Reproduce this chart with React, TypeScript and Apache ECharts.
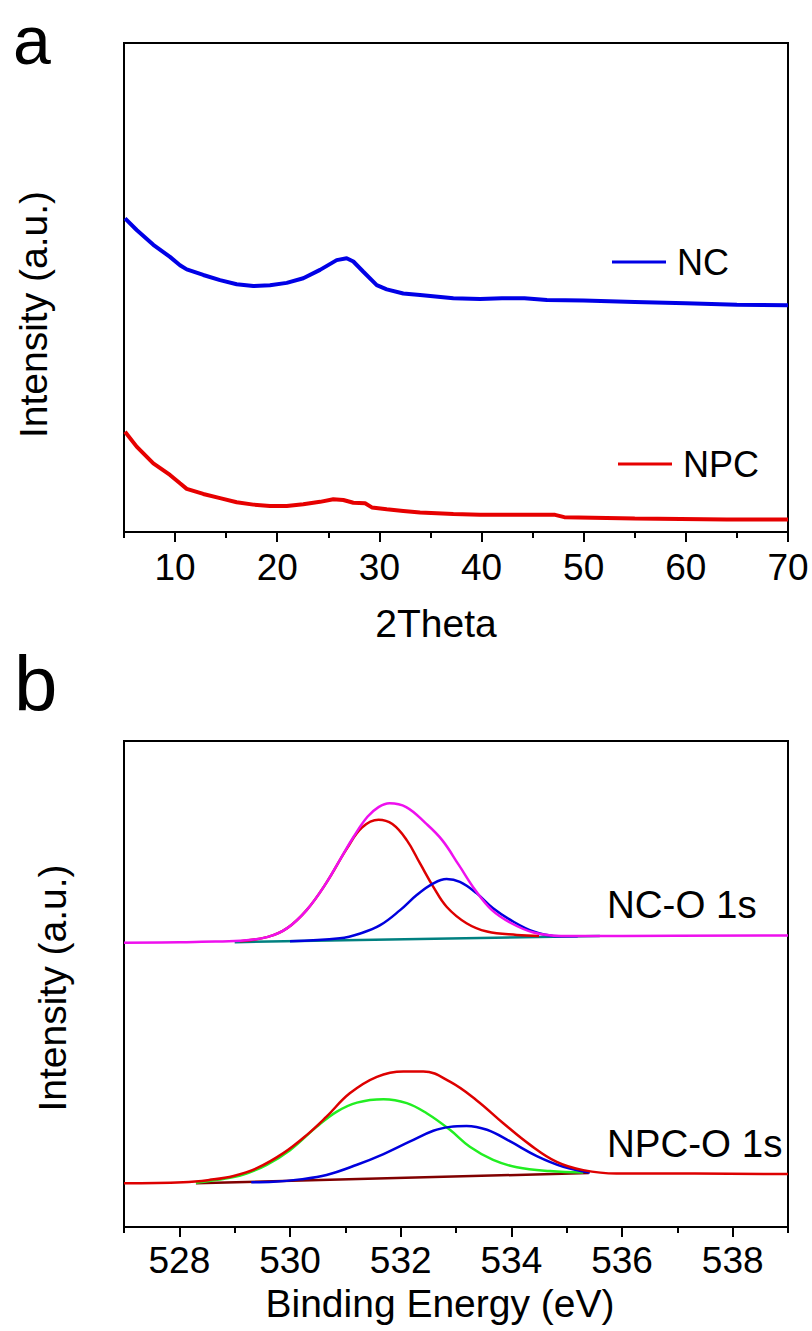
import React, { useEffect, useRef } from "react";
import * as echarts from "echarts";

// ---------- Panel a: XRD ----------
const XRD_MAJOR_TICKS = [10, 20, 30, 40, 50, 60, 70];
const XRD_MINOR_TICKS = [5, 15, 25, 35, 45, 55, 65];
const NC_XRD: [number, number][] = [
  [5.1, 67.6], [6.24, 65.1], [7.87, 61.9], [9.5, 59.3], [10.48, 57.5], [11.14, 56.6],
  [12.76, 55.4], [14.4, 54.3], [16.03, 53.4], [17.66, 53.0], [19.29, 53.2], [20.93, 53.7],
  [22.55, 54.7], [24.19, 56.5], [25.82, 58.6], [26.8, 59.0], [27.45, 58.3], [28.43, 56.1],
  [29.74, 53.2], [30.72, 52.3], [32.34, 51.4], [33.98, 51.1], [37.24, 50.4], [39.85, 50.2],
  [42.0, 50.4], [44.2, 50.4], [46.4, 50.0], [50, 49.9], [55, 49.6], [60, 49.3], [65, 49.0], [70, 48.9],
];
const NPC_XRD: [number, number][] = [
  [5.1, 21.6], [6.24, 18.4], [7.87, 14.8], [9.5, 12.3], [10.48, 10.5], [11.14, 9.3],
  [12.76, 8.2], [14.4, 7.3], [16.03, 6.4], [17.66, 5.9], [19.29, 5.6], [20.93, 5.6],
  [22.55, 6.0], [24.19, 6.5], [25.49, 7.05], [26.47, 6.9], [27.45, 6.3], [28.6, 6.2],
  [29.26, 5.3], [30.72, 4.9], [32.34, 4.55], [33.98, 4.2], [37.24, 3.86], [39.85, 3.7],
  [47.2, 3.7], [48.1, 3.2], [55, 2.9], [64, 2.7], [70, 2.7],
];

// ---------- Panel b: XPS O 1s ----------
const XPS_MAJOR_TICKS = [528, 530, 532, 534, 536, 538];
const XPS_MINOR_TICKS = [527, 529, 531, 533, 535, 537, 539];
const NC_O_ENVELOPE: [number, number][] = [
  [527.0, 58.5], [528.0, 58.6], [528.4, 58.7], [529.1, 58.9], [529.6, 59.7], [529.95, 61.5],
  [530.3, 65.2], [530.65, 70.7], [530.9, 75.5], [531.15, 80.3], [531.4, 84.4], [531.6, 86.4],
  [531.8, 87.2], [532.1, 86.4], [532.45, 83.1], [532.75, 79.6], [533.05, 74.5], [533.35, 69.3],
  [533.65, 65.2], [534.0, 62.5], [534.4, 60.6], [534.9, 59.9], [536.0, 59.9], [539.0, 60.0],
];
const NC_O_PEAK1: [number, number][] = [
  [529.1, 58.8], [529.6, 59.7], [529.95, 61.5], [530.3, 65.2], [530.65, 70.7], [531.03, 77.9],
  [531.3, 82.2], [531.6, 83.8], [531.85, 82.9], [532.11, 79.6], [532.35, 74.8], [532.59, 70.0],
  [532.83, 65.9], [533.19, 62.5], [533.56, 60.8], [534.1, 60.1], [534.5, 59.9],
];
const NC_O_PEAK2: [number, number][] = [
  [530.0, 58.8], [530.9, 59.4], [531.27, 60.4], [531.63, 62.1], [531.99, 65.2], [532.29, 68.3],
  [532.59, 70.7], [532.83, 71.6], [533.07, 71.0], [533.37, 68.7], [533.67, 65.6], [534.04, 62.8],
  [534.4, 60.8], [534.76, 59.9], [535.2, 59.8],
];
const NC_O_BASELINE: [number, number][] = [[529.0, 58.6], [535.6, 59.9]];

const NPC_O_ENVELOPE: [number, number][] = [
  [527.0, 9.0], [528.07, 9.2], [528.55, 9.7], [528.98, 10.5], [529.4, 12.1], [529.88, 15.2],
  [530.3, 18.9], [530.66, 22.7], [531.08, 27.5], [531.57, 30.9], [532.05, 32.0], [532.41, 32.0],
  [532.89, 29.9], [533.37, 26.1], [533.86, 21.3], [534.34, 16.9], [534.82, 13.4], [535.3, 11.7],
  [535.9, 11.0], [536.5, 11.0], [539.0, 10.9],
];
const NPC_O_PEAK1: [number, number][] = [
  [528.3, 9.1], [528.68, 9.7], [529.16, 10.8], [529.58, 12.8], [530.0, 15.8], [530.48, 20.6],
  [530.84, 23.7], [531.21, 25.6], [531.69, 26.3], [532.11, 25.5], [532.47, 23.4], [532.89, 20.0],
  [533.25, 16.5], [533.67, 13.8], [534.1, 12.3], [534.7, 11.5], [535.3, 11.2],
];
const NPC_O_PEAK2: [number, number][] = [
  [529.3, 9.2], [529.7, 9.3], [530.18, 9.8], [530.66, 10.7], [531.21, 12.8], [531.69, 15.0],
  [532.17, 17.6], [532.59, 19.8], [532.89, 20.6], [533.19, 20.8], [533.56, 20.0], [533.98, 17.6],
  [534.46, 14.6], [534.94, 12.4], [535.42, 11.2],
];
const NPC_O_BASELINE: [number, number][] = [[528.3, 9.0], [535.4, 11.1]];

const FONT = '"Liberation Sans", Arial, Helvetica, sans-serif';
const FS_TICK = 37;
const FS_NAME = 39;
const FS_NOTE = 38.5;
const FS_LEGEND = 36;

export default function App() {
  const ref = useRef<HTMLDivElement>(null);
  useEffect(() => {
    if (!ref.current) return;
    const chart = echarts.init(ref.current, undefined, { renderer: "svg" });
    const black = "#000";
    const axisLine = { show: true, onZero: false, lineStyle: { color: black, width: 2 } };
    const mkX = (grid: number, min: number, max: number, major: number[], minor: number[], name: string, nameGap: number, labelMargin: number, shiftLeft: number) => [
      {
        gridIndex: grid, type: "value", min, max, position: "bottom",
        name, nameLocation: "middle", nameGap,
        nameTextStyle: { fontSize: FS_NAME, color: black, fontFamily: FONT, padding: [0, shiftLeft * 2, 0, 0] },
        axisLine,
        axisTick: { show: true, customValues: major, length: 10, lineStyle: { color: black, width: 2 } },
        axisLabel: { show: true, customValues: major, fontSize: FS_TICK, color: black, margin: labelMargin, fontFamily: FONT },
        splitLine: { show: false },
      },
      {
        gridIndex: grid, type: "value", min, max, position: "bottom", offset: 0,
        axisLine: { show: false },
        axisTick: { show: true, customValues: minor, length: 6, lineStyle: { color: black, width: 2 } },
        axisLabel: { show: false },
        splitLine: { show: false },
      },
    ];
    const mkY = (grid: number, max: number, nameGap: number, shiftDown: number) => ({
      gridIndex: grid, type: "value", min: 0, max,
      name: "Intensity (a.u.)", nameLocation: "middle", nameGap, nameRotate: 90,
      nameTextStyle: { fontSize: FS_NAME, color: black, fontFamily: FONT, padding: [0, shiftDown * 2, 0, 0] },
      axisLine, axisTick: { show: false }, axisLabel: { show: false }, splitLine: { show: false },
    });
    const line = (name: string, data: [number, number][], color: string, xi: number, yi: number, width: number, smooth: number | boolean) => ({
      name, type: "line", data, xAxisIndex: xi, yAxisIndex: yi,
      showSymbol: false, symbol: "none", smooth,
      lineStyle: { color, width }, itemStyle: { color },
    });
    const legendBase = {
      orient: "horizontal", icon: "rect", itemWidth: 54, itemHeight: 3, padding: 0,
      selectedMode: false,
      textStyle: { fontSize: FS_LEGEND, color: black, fontFamily: FONT, padding: [0, 0, 0, 6] },
    };
    chart.setOption({
      animation: false,
      backgroundColor: "#fff",
      textStyle: { fontFamily: FONT },
      grid: [
        { left: 124, top: 43, width: 664, height: 489, show: true, borderColor: black, borderWidth: 2, backgroundColor: "transparent" },
        { left: 124, top: 741, width: 664, height: 486, show: true, borderColor: black, borderWidth: 2, backgroundColor: "transparent" },
      ],
      xAxis: [
        ...mkX(0, 5, 70, XRD_MAJOR_TICKS, XRD_MINOR_TICKS, "2Theta", 72, 17, 20),
        ...mkX(1, 527, 539, XPS_MAJOR_TICKS, XPS_MINOR_TICKS, "Binding Energy (eV)", 57, 15, 16),
      ],
      yAxis: [mkY(0, 105.4, 71, 27), mkY(1, 100, 52, 4)],
      legend: [
        { ...legendBase, data: ["NC"], left: 612, top: 244 },
        { ...legendBase, data: ["NPC"], left: 618, top: 446 },
      ],
      series: [
        line("NC", NC_XRD, "#0000E6", 0, 0, 4, false),
        line("NPC", NPC_XRD, "#E60000", 0, 0, 4, false),
        line("NC-O baseline", NC_O_BASELINE, "#008080", 2, 1, 2.5, false),
        line("NC-O peak 1", NC_O_PEAK1, "#DD0000", 2, 1, 2.5, 0.4),
        line("NC-O peak 2", NC_O_PEAK2, "#0000DD", 2, 1, 2.5, 0.4),
        line("NC-O envelope", NC_O_ENVELOPE, "#EE10EE", 2, 1, 2.5, 0.4),
        line("NPC-O baseline", NPC_O_BASELINE, "#800000", 2, 1, 2.5, false),
        line("NPC-O peak 1", NPC_O_PEAK1, "#22EE22", 2, 1, 2.5, 0.4),
        line("NPC-O peak 2", NPC_O_PEAK2, "#0000DD", 2, 1, 2.5, 0.4),
        line("NPC-O envelope", NPC_O_ENVELOPE, "#DD0000", 2, 1, 2.5, 0.4),
      ],
      graphic: [
        { type: "text", x: 13, y: 6, style: { text: "a", font: `68px ${FONT}`, fill: black, verticalAlign: "top" } },
        { type: "text", x: 14, y: 684, style: { text: "b", font: `78px ${FONT}`, fill: black, verticalAlign: "middle" } },
        { type: "text", x: 607, y: 904, style: { text: "NC-O 1s", font: `${FS_NOTE}px ${FONT}`, fill: black, verticalAlign: "middle" } },
        { type: "text", x: 607, y: 1143, style: { text: "NPC-O 1s", font: `${FS_NOTE}px ${FONT}`, fill: black, verticalAlign: "middle" } },
      ],
    });
    return () => chart.dispose();
  }, []);
  return <div ref={ref} style={{ position: "absolute", left: 0, top: 0, width: 812, height: 1331 }} />;
}
